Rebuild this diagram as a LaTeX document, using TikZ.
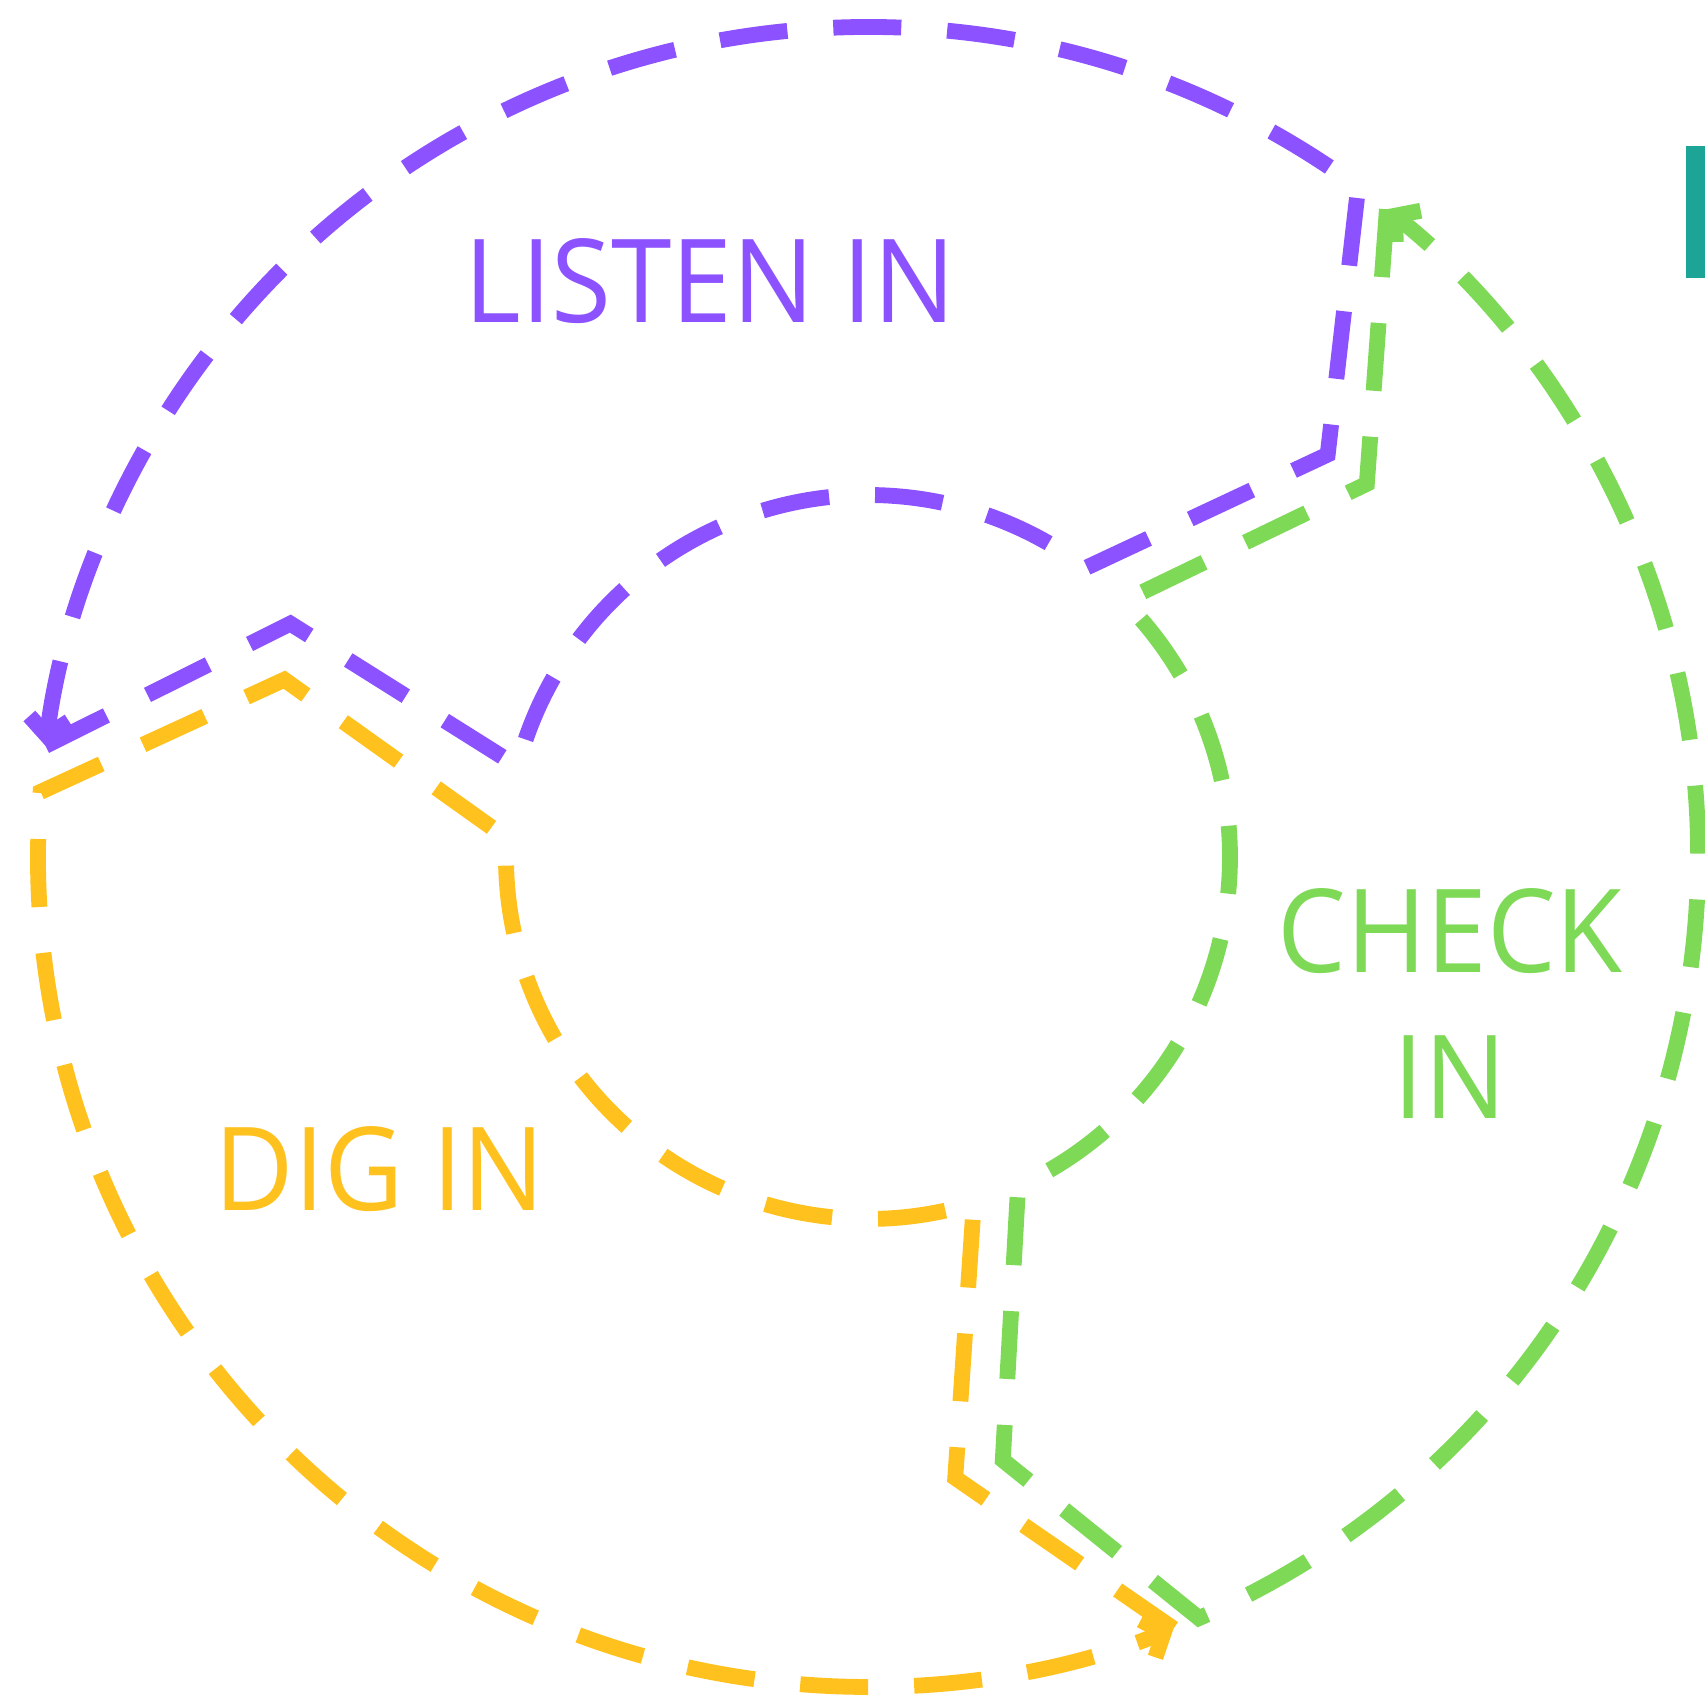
\documentclass[tikz,border=0pt]{standalone}
\usepackage{fontspec}
\setmainfont{Open Sans}[FakeStretch=0.94]
\usetikzlibrary{arrows.meta}

\definecolor{listencol}{RGB}{140,82,255}
\definecolor{checkcol}{RGB}{126,217,87}
\definecolor{digcol}{RGB}{255,193,30}
\definecolor{barcol}{RGB}{28,164,150}

\begin{document}
\begin{tikzpicture}[
		ringpath/.style={line width=4.5pt, dash pattern=on 6.8mm off 4.6mm,
			-{Straight Barb[length=1.7mm, width=4mm]}},
		ringtext/.style={font=\fontsize{33}{41.8}\selectfont, inner sep=0pt, align=center}]
			\useasboundingbox (-8.68,-8.44) rectangle (8.37,8.57);

			% listen in (top sector)
			\draw[ringpath, listencol] (172.3:8.3) -- (158:6.23) -- (165.5:3.62)
				arc[start angle=165.5, end angle=53, radius=3.62] -- (41.2:6.11) -- (53.8:8.3)
				arc[start angle=53.8, end angle=172.3, radius=8.3];
			\node[ringtext, text=listencol] (listen) at (-1.58,5.76) {LISTEN IN};

			% check in (right sector)
			\draw[ringpath, checkcol] (51.3:8.3) -- (36.8:6.23) -- (45:3.62)
				arc[start angle=45, end angle=-65.5, radius=3.62] -- (-77.4:6.18) -- (-66.5:8.3)
				arc[start angle=-66.5, end angle=51.3, radius=8.3];
			\node[ringtext, text=checkcol] (check) at (5.82,-1.465) {CHECK\\IN};

			% dig in (bottom left sector)
			\draw[ringpath, digcol] (291.6:8.3) -- (278:6.27) -- (287:3.62)
				arc[start angle=287, end angle=177, radius=3.62] -- (163.1:6.1) -- (175.5:8.3)
				arc[start angle=175.5, end angle=291.6, radius=8.3];
			\node[ringtext, text=digcol] (dig) at (-4.88,-3.12) {DIG IN};

			% bar at the right edge
			\fill[barcol] (8.18,5.79) rectangle (8.37,7.11);
		\end{tikzpicture}
\end{document}
